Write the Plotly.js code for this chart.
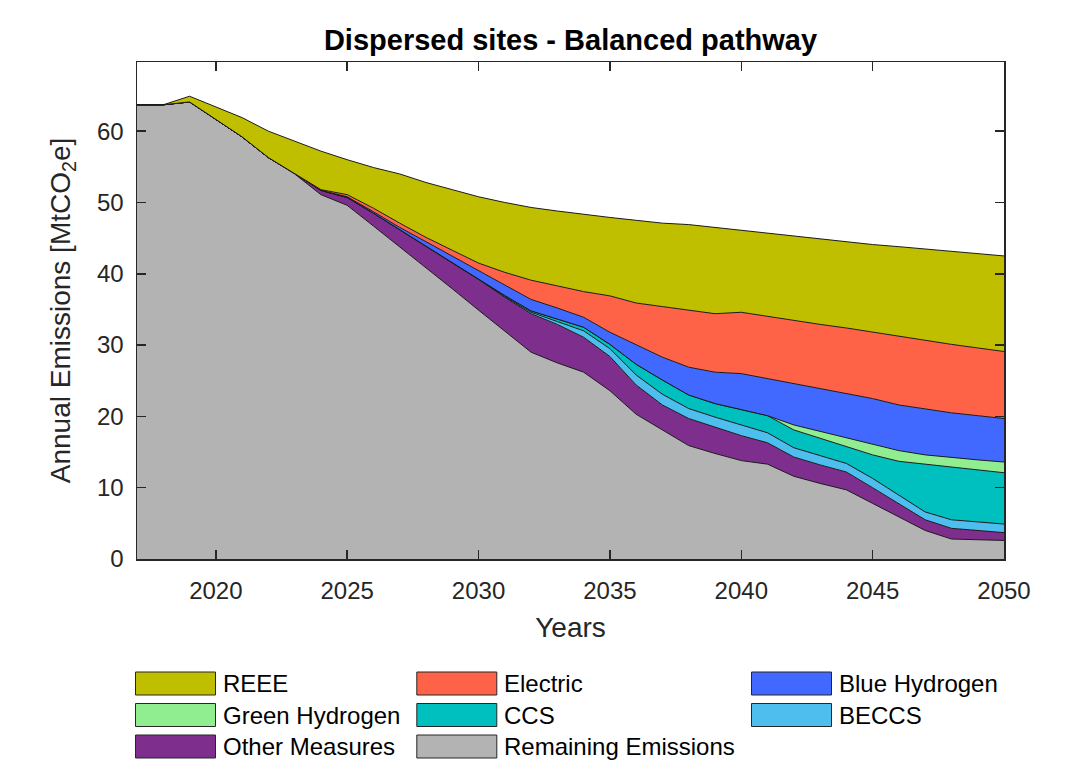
<!DOCTYPE html>
<html>
<head>
<meta charset="utf-8">
<script src="https://cdn.plot.ly/plotly-3.0.1.min.js"></script>
<style>
html,body{margin:0;padding:0;background:#fff;}
#chart{width:1087px;height:760px;}
</style>
</head>
<body>
<div id="chart"></div>
<script>
// ---- Data (MtCO2e per year, each series is its own layer of the stack) ----
const years = [2017,2018,2019,2020,2021,2022,2023,2024,2025,2026,
               2027,2028,2029,2030,2031,2032,2033,2034,2035,2036,
               2037,2038,2039,2040,2041,2042,2043,2044,2045,2046,
               2047,2048,2049,2050];

const remaining = [63.7,63.7,64.1,61.6,59.2,56.3,54.0,51.1,49.6,46.7,
                   43.8,40.8,37.9,34.9,31.9,29.0,27.5,26.2,23.6,20.3,
                   18.1,15.9,14.8,13.8,13.3,11.6,10.6,9.7,7.8,5.9,
                   4.0,2.8,2.7,2.6];
const otherMeasures = [0,0,0,0,0,0,0.1,0.6,1.1,1.8,
                       2.4,3.1,3.7,4.3,4.8,5.4,5.4,4.9,4.8,4.1,
                       3.5,3.8,3.7,3.5,3.0,2.7,2.6,2.5,2.2,1.9,
                       1.5,1.5,1.3,1.1];
const beccs = [0,0,0,0,0,0,0,0,0,0,
               0,0,0,0.05,0.1,0.2,0.4,0.9,1.1,1.4,
               1.5,1.4,1.4,1.5,1.4,1.3,1.3,1.2,1.3,1.2,
               1.1,1.2,1.2,1.2];
const ccs = [0,0,0,0,0,0,0,0,0,0,
             0,0.05,0.05,0.05,0.15,0.2,0.3,0.5,0.6,1.5,
             2.0,1.9,1.9,2.1,2.4,2.5,2.4,2.3,3.3,4.7,
             6.7,7.3,7.3,7.2];
const greenHydrogen = [0,0,0,0,0,0,0,0,0,0,
                       0,0,0,0,0,0,0,0,0,0,
                       0,0,0,0,0,0.7,1.0,1.4,1.6,1.5,
                       1.3,1.4,1.4,1.5];
const blueHydrogen = [0,0,0,0,0,0,0,0,0.1,0.2,
                      0.3,0.55,0.85,1.2,1.45,1.6,1.6,1.4,1.7,2.7,
                      3.2,3.9,4.4,5.1,5.2,5.7,5.9,6.1,6.3,6.4,
                      6.4,6.3,6.2,6.1];
const electric = [0,0,0,0,0,0,0,0.1,0.3,0.5,
                  0.6,0.6,0.8,1.0,1.8,2.7,3.1,3.6,5.1,5.9,
                  7.1,8.0,8.2,8.6,8.7,8.9,9.1,9.2,9.3,9.6,
                  9.7,9.6,9.5,9.4];
const reee = [0,0,0.8,1.8,2.7,3.7,4.5,5.4,4.9,5.7,
              6.9,7.7,8.5,9.3,9.8,10.2,10.5,10.8,11.0,11.6,
              11.7,12.0,12.1,11.5,11.6,11.8,11.9,12.1,12.3,12.6,
              12.8,13.1,13.3,13.4];

const xTicks = [2020,2025,2030,2035,2040,2045,2050];
const yTicks = [0,10,20,30,40,50,60];

// stacking order: bottom first
const seriesNames  = ['Remaining Emissions','Other Measures','BECCS','CCS','Green Hydrogen','Blue Hydrogen','Electric','REEE'];
const seriesValues = [remaining, otherMeasures, beccs, ccs, greenHydrogen, blueHydrogen, electric, reee];
const seriesColors = ['#B3B3B3','#7E2F8E','#4DBEEE','#00BFBF','#90EE90','#4169FF','#FF6347','#BFBF00'];

// legend layout (row-major, 3 columns)
const legendOrder = [['REEE','Electric','Blue Hydrogen'],
                     ['Green Hydrogen','CCS','BECCS'],
                     ['Other Measures','Remaining Emissions']];

// ---- Figure geometry ----
const W = 1087, H = 760;
const M = {l:137, r:83, t:62, b:201};
const plotW = W - M.l - M.r, plotH = H - M.t - M.b;
const px2x = px => (px - M.l) / plotW;
const px2y = py => (H - M.b - py) / plotH;
const FONT = 'Liberation Sans, Arial, sans-serif';

const traces = seriesNames.map((name, i) => ({
  type: 'scatter',
  mode: 'lines',
  x: years,
  y: seriesValues[i],
  name: name,
  stackgroup: 'one',
  fillcolor: seriesColors[i],
  line: {color: '#1a1a1a', width: 1, shape: 'linear'},
  showlegend: false,
  hoverinfo: 'x+y+name'
}));

// custom legend (swatch + label)
const shapes = [];
const annotations = [];
const colX = [135.5, 416.8, 751.5];
const rowY = [672, 703.5, 735];
const swW = 80, swH = 23;
legendOrder.forEach((row, r) => {
  row.forEach((name, c) => {
    const idx = seriesNames.indexOf(name);
    const x0 = colX[c], y0 = rowY[r];
    shapes.push({
      type: 'rect', xref: 'paper', yref: 'paper',
      x0: px2x(x0), x1: px2x(x0 + swW),
      y0: px2y(y0), y1: px2y(y0 + swH),
      fillcolor: seriesColors[idx],
      line: {color: '#262626', width: 1}
    });
    annotations.push({
      xref: 'paper', yref: 'paper',
      x: px2x(x0 + swW + 5), y: px2y(y0 + swH / 2),
      xanchor: 'left', yanchor: 'middle',
      text: name, showarrow: false,
      font: {family: FONT, size: 24, color: '#000'}
    });
  });
});

const axisCommon = {
  showline: true, linecolor: '#262626', linewidth: 1.5,
  mirror: 'ticks', ticks: 'inside', ticklen: 9, tickwidth: 1.5, tickcolor: '#262626',
  showgrid: false, zeroline: false,
  tickfont: {family: FONT, size: 24, color: '#262626'}
};

const layout = {
  width: W, height: H,
  margin: {l: M.l, r: M.r, t: M.t, b: M.b, pad: 0},
  paper_bgcolor: '#fff', plot_bgcolor: '#fff',
  showlegend: false,
  title: {
    text: '<b>Dispersed sites - Balanced pathway</b>',
    font: {family: FONT, size: 29, color: '#000'},
    x: 0.5, xref: 'paper', xanchor: 'center',
    y: 1 - 40 / H, yref: 'container', yanchor: 'middle'
  },
  xaxis: Object.assign({}, axisCommon, {
    range: [2017, 2050],
    tickvals: xTicks, ticktext: xTicks.map(String),
    ticklabelstandoff: 10,
    title: {text: 'Years', standoff: 14,
            font: {family: FONT, size: 28, color: '#262626'}}
  }),
  yaxis: Object.assign({}, axisCommon, {
    range: [0, 69.7],
    tickvals: yTicks, ticktext: yTicks.map(String),
    ticklabelstandoff: 7,
    title: {text: 'Annual Emissions [MtCO<sub>2</sub>e]', standoff: 18,
            font: {family: FONT, size: 28, color: '#262626'}}
  }),
  shapes: shapes,
  annotations: annotations
};

Plotly.newPlot('chart', traces, layout, {displayModeBar: false, staticPlot: true});
</script>
</body>
</html>
